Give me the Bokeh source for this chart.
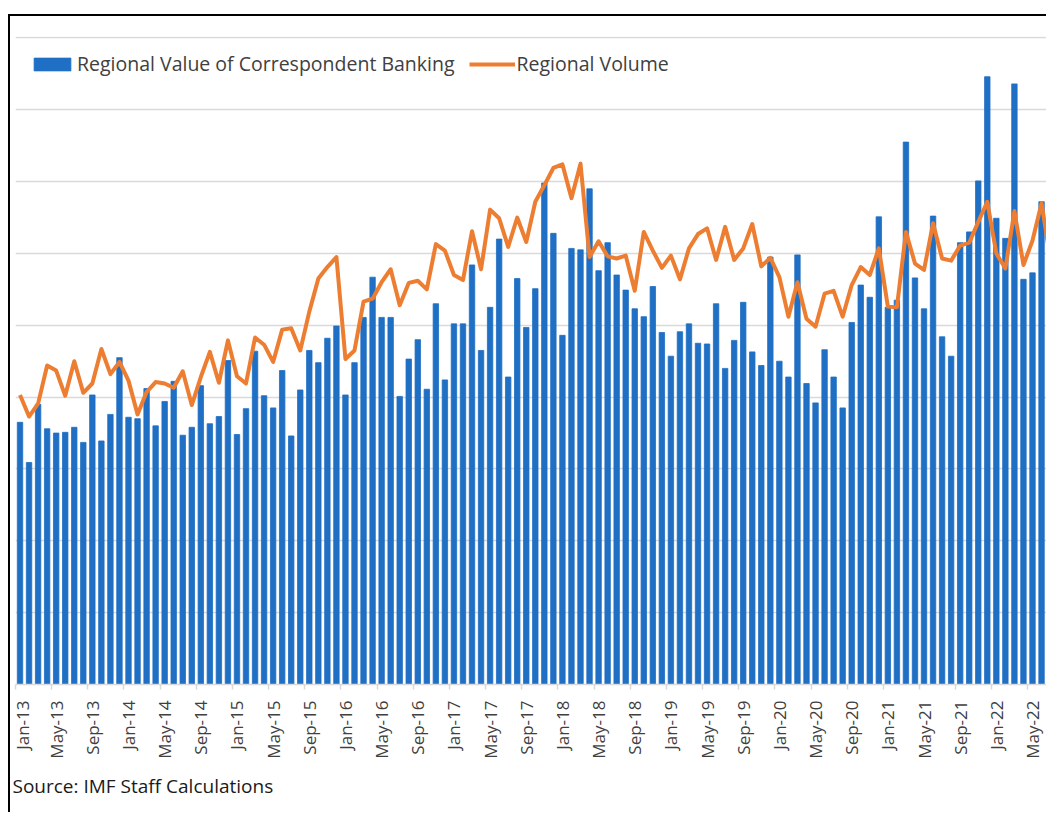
import math
import pandas as pd
from bokeh.plotting import figure
from bokeh.models import (Range1d, FixedTicker, Legend, LegendItem, Title,
                          ColumnDataSource)
from bokeh.embed import file_html
from bokeh.resources import INLINE

# ---------------- data ----------------
MONTHS = pd.date_range("2013-01-01", periods=115, freq="MS").strftime("%b-%y").tolist()

TICK_LABELS = ["Jan-13", "May-13", "Sep-13", "Jan-14", "May-14", "Sep-14",
               "Jan-15", "May-15", "Sep-15", "Jan-16", "May-16", "Sep-16",
               "Jan-17", "May-17", "Sep-17", "Jan-18", "May-18", "Sep-18",
               "Jan-19", "May-19", "Sep-19", "Jan-20", "May-20", "Sep-20",
               "Jan-21", "May-21", "Sep-21", "Jan-22", "May-22"]

VALUE = [3.65, 3.09, 3.90, 3.56, 3.50, 3.51, 3.58, 3.37, 4.03, 3.39, 3.76, 4.55,
         3.72, 3.70, 4.12, 3.60, 3.94, 4.22, 3.47, 3.58, 4.16, 3.63, 3.73, 4.51,
         3.48, 3.84, 4.64, 4.02, 3.85, 4.37, 3.46, 4.10, 4.65, 4.48, 4.82, 4.99,
         4.03, 4.48, 5.11, 5.67, 5.11, 5.11, 4.01, 4.53, 4.80, 4.11, 5.30, 4.24,
         5.02, 5.02, 5.84, 4.65, 5.25, 6.20, 4.28, 5.65, 4.97, 5.51, 6.98, 6.28,
         4.86, 6.07, 6.05, 6.90, 5.76, 6.15, 5.70, 5.49, 5.23, 5.12, 5.54, 4.90,
         4.57, 4.91, 5.02, 4.75, 4.74, 5.30, 4.40, 4.79, 5.32, 4.63, 4.44, 5.95,
         4.50, 4.28, 5.98, 4.19, 3.92, 4.66, 4.28, 3.85, 5.04, 5.56, 5.39, 6.51,
         5.25, 5.35, 7.55, 5.66, 5.23, 6.52, 4.84, 4.57, 6.15, 6.30, 7.01, 8.46,
         6.49, 6.21, 8.36, 5.64, 5.73, 6.72, 6.00]

VOLUME = [4.03, 3.73, 3.91, 4.44, 4.37, 4.02, 4.50, 4.06, 4.19, 4.67, 4.32, 4.49,
          4.23, 3.76, 4.07, 4.21, 4.19, 4.13, 4.36, 3.89, 4.28, 4.63, 4.20, 4.79,
          4.29, 4.19, 4.83, 4.73, 4.49, 4.94, 4.96, 4.65, 5.19, 5.65, 5.81, 5.95,
          4.53, 4.65, 5.33, 5.37, 5.60, 5.78, 5.28, 5.59, 5.62, 5.50, 6.13, 6.04,
          5.70, 5.63, 6.31, 5.78, 6.61, 6.49, 6.09, 6.50, 6.16, 6.72, 6.95, 7.19,
          7.24, 6.77, 7.25, 5.95, 6.17, 5.96, 5.93, 5.97, 5.48, 6.30, 6.04, 5.80,
          5.97, 5.64, 6.07, 6.27, 6.35, 5.91, 6.37, 5.91, 6.07, 6.41, 5.82, 5.94,
          5.67, 5.12, 5.60, 5.09, 4.98, 5.44, 5.48, 5.12, 5.56, 5.81, 5.70, 6.07,
          5.26, 5.25, 6.30, 5.86, 5.77, 6.42, 5.93, 5.90, 6.11, 6.15, 6.44, 6.72,
          6.00, 5.79, 6.59, 5.84, 6.18, 6.70, 5.90]

BAR_LABEL = "Regional Value of Correspondent Banking"
LINE_LABEL = "Regional Volume"
SOURCE_NOTE = "Source: IMF Staff Calculations"

# ---------------- figure ----------------
FONT = "Open Sans"
idx = list(range(len(MONTHS)))
src = ColumnDataSource(dict(x=idx, month=MONTHS, value=VALUE, volume=VOLUME))

p = figure(width=1038, height=798, output_backend="svg", toolbar_location=None,
           x_range=Range1d(-0.5, 113.77), y_range=Range1d(0, 9.02),
           min_border_left=5, min_border_right=0, min_border_top=20,
           min_border_bottom=130)
p.styles = {"margin-top": "14px", "margin-left": "8px",
            "border-top": "2px solid black", "border-left": "2px solid black"}
p.outline_line_color = None
p.background_fill_color = "white"
p.border_fill_color = "white"

bars = p.vbar(x="x", top="value", width=0.6, source=src,
              fill_color="#1F6FC4", line_color="#1F6FC4", line_width=0.8)
line = p.line(x="x", y="volume", source=src, line_color="#ED7D31",
              line_width=4, line_join="round")

# x axis
tick_pos = [MONTHS.index(t) for t in TICK_LABELS]
p.xaxis.ticker = FixedTicker(ticks=tick_pos, minor_ticks=[t - 0.5 for t in tick_pos])
p.xaxis.major_label_overrides = {t: MONTHS[t] for t in tick_pos}
p.xaxis.major_label_orientation = math.pi / 2
p.xaxis.major_label_text_font = FONT
p.xaxis.major_label_text_font_size = "17px"
p.xaxis.major_label_text_color = "#404040"
p.xaxis.major_label_standoff = 10
p.xaxis.major_tick_line_color = None
p.xaxis.minor_tick_line_color = "#d9d9d9"
p.xaxis.minor_tick_line_width = 1.5
p.xaxis.minor_tick_in = 0
p.xaxis.minor_tick_out = 5
p.xaxis.axis_line_color = "#d9d9d9"
p.xaxis.axis_line_width = 1.5

# y axis hidden, grid kept
p.yaxis.visible = False
p.ygrid.ticker = FixedTicker(ticks=list(range(0, 10)))
p.ygrid.grid_line_color = "#d9d9d9"
p.ygrid.grid_line_width = 1.5
p.xgrid.visible = False

legend = Legend(items=[LegendItem(label=BAR_LABEL, renderers=[bars]),
                       LegendItem(label=LINE_LABEL, renderers=[line])],
                orientation="horizontal", location="top_left",
                margin=14, padding=0, spacing=14, label_standoff=2,
                glyph_width=46, glyph_height=16,
                label_text_font=FONT, label_text_font_size="19.5px",
                label_text_color="#404040",
                border_line_color=None, background_fill_alpha=0)
p.add_layout(legend)

p.add_layout(Title(text=SOURCE_NOTE, align="left", text_font=FONT,
                   text_font_size="19px", text_font_style="normal",
                   text_color="#1a1a1a", offset=-3, standoff=18), "below")

open("out.html", "w").write(file_html(p, INLINE))
